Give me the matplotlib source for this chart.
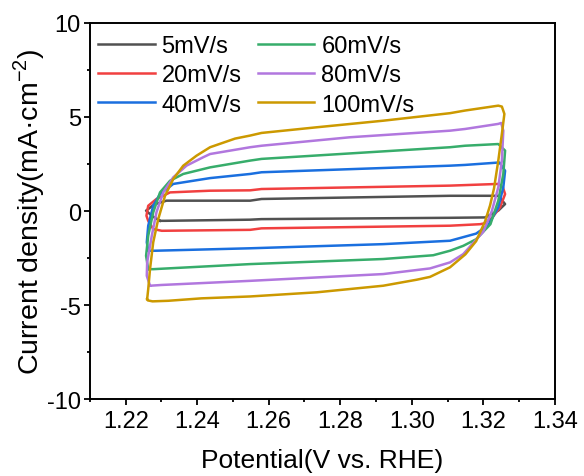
import matplotlib
matplotlib.use("Agg")
import matplotlib.pyplot as plt
from matplotlib.ticker import MultipleLocator

plt.rcParams['font.family'] = ['Liberation Sans', 'DejaVu Sans']
plt.rcParams['mathtext.fontset'] = 'custom'
plt.rcParams['mathtext.rm'] = 'Liberation Sans'
plt.rcParams['axes.unicode_minus'] = False

labels = ['5mV/s', '20mV/s', '40mV/s', '60mV/s', '80mV/s', '100mV/s']
colors = ['#515151', '#F14040', '#1A6FDF', '#37AD6B', '#B177DE', '#CC9900']

v5 = [1.2296, 1.2275, 1.2257, 1.2280, 1.2314, 1.2548, 1.2580, 1.3107, 1.3242, 1.3261, 1.3242, 1.3205, 1.3107, 1.2580, 1.2548, 1.2310, 1.2296]
i5 = [-0.52, -0.28, 0.02, 0.35, 0.55, 0.55, 0.64, 0.81, 0.81, 0.37, 0.02, -0.34, -0.36, -0.43, -0.46, -0.52, -0.52]

v20 = [1.2277, 1.2263, 1.2258, 1.2263, 1.2286, 1.2324, 1.2436, 1.2548, 1.2580, 1.3107, 1.3242, 1.3255, 1.3261, 1.3247, 1.3225, 1.3205, 1.3191, 1.3107, 1.2580, 1.2548, 1.2301, 1.2277]
i20 = [-0.96, -0.52, -0.25, 0.28, 0.64, 0.99, 1.08, 1.10, 1.17, 1.35, 1.44, 1.25, 0.90, 0.20, -0.35, -0.65, -0.70, -0.78, -0.92, -1.00, -1.05, -0.96]

v40 = [1.2263, 1.2259, 1.2263, 1.2277, 1.2296, 1.2333, 1.2436, 1.2548, 1.2580, 1.3107, 1.3149, 1.3245, 1.3261, 1.3256, 1.3242, 1.3214, 1.3180, 1.3107, 1.2920, 1.2548, 1.2282, 1.2263]
i40 = [-2.11, -1.66, -0.78, 0.28, 0.90, 1.44, 1.75, 1.97, 2.06, 2.41, 2.45, 2.58, 2.14, 1.26, 0.20, -0.75, -1.20, -1.58, -1.76, -1.98, -2.11, -2.11]

v60 = [1.2263, 1.2257, 1.2263, 1.2277, 1.2296, 1.2324, 1.2361, 1.2436, 1.2548, 1.2580, 1.3107, 1.3149, 1.3242, 1.3261, 1.3256, 1.3242, 1.3220, 1.3180, 1.3144, 1.3107, 1.3060, 1.2920, 1.2548, 1.2277, 1.2263]
i60 = [-3.09, -2.38, -1.31, -0.07, 0.99, 1.61, 1.97, 2.32, 2.68, 2.77, 3.39, 3.47, 3.56, 3.21, 1.97, 0.55, -0.70, -1.50, -1.85, -2.11, -2.35, -2.55, -2.82, -3.09, -3.09]

v80 = [1.2268, 1.2259, 1.2260, 1.2273, 1.2286, 1.2305, 1.2333, 1.2370, 1.2417, 1.2436, 1.2548, 1.2580, 1.2827, 1.3107, 1.3149, 1.3242, 1.3250, 1.3256, 1.3252, 1.3242, 1.3224, 1.3200, 1.3144, 1.3107, 1.3051, 1.2920, 1.2548, 1.2300, 1.2268]
i80 = [-3.97, -3.44, -2.73, -1.31, -0.07, 0.99, 1.79, 2.41, 2.86, 3.03, 3.39, 3.47, 3.92, 4.27, 4.36, 4.63, 4.68, 4.27, 2.68, 1.26, 0.00, -1.10, -2.29, -2.73, -3.05, -3.35, -3.71, -3.93, -3.97]

v100 = [1.2260, 1.2263, 1.2268, 1.2277, 1.2291, 1.2310, 1.2333, 1.2361, 1.2398, 1.2436, 1.2506, 1.2548, 1.2580, 1.2734, 1.2920, 1.3107, 1.3149, 1.3242, 1.3252, 1.3259, 1.3252, 1.3242, 1.3230, 1.3219, 1.3205, 1.3180, 1.3150, 1.3107, 1.3051, 1.3014, 1.2920, 1.2734, 1.2548, 1.2412, 1.2319, 1.2275, 1.2262, 1.2260]
i100 = [-4.68, -4.15, -3.09, -1.66, -0.43, 0.81, 1.70, 2.41, 2.94, 3.39, 3.85, 4.01, 4.15, 4.45, 4.80, 5.20, 5.34, 5.60, 5.55, 5.16, 4.10, 2.68, 1.20, 0.30, -0.55, -1.60, -2.30, -2.99, -3.50, -3.65, -3.97, -4.32, -4.54, -4.64, -4.77, -4.80, -4.75, -4.68]

series_v = [v5, v20, v40, v60, v80, v100]
series_i = [i5, i20, i40, i60, i80, i100]

fig = plt.figure(figsize=(5.84, 4.77), dpi=100)
ax = fig.add_axes([0.154, 0.161, 0.796, 0.789])

for v, i, c, lab in zip(series_v, series_i, colors, labels):
    ax.plot(v, i, color=c, lw=1.8, label=lab, solid_joinstyle='round')

ax.set_xlim(1.21, 1.34)
ax.set_ylim(-10, 10)
ax.set_xticks([1.22, 1.24, 1.26, 1.28, 1.30, 1.32, 1.34])
ax.set_xticklabels(['1.22', '1.24', '1.26', '1.28', '1.30', '1.32', '1.34'])
ax.set_yticks([-10, -5, 0, 5, 10])
ax.xaxis.set_minor_locator(MultipleLocator(0.01))
ax.yaxis.set_minor_locator(MultipleLocator(2.5))
ax.tick_params(which='major', direction='out', length=4.5, width=1.3, labelsize=17, top=False, right=False)
ax.tick_params(which='minor', direction='out', length=2.5, width=1.3, top=False, right=False)
ax.tick_params(axis='y', pad=2)
ax.tick_params(axis='x', pad=3)
for s in ax.spines.values():
    s.set_linewidth(1.4)

ax.set_xlabel('Potential(V vs. RHE)', fontsize=19, labelpad=12)
ax.set_ylabel(r'Current density(mA·cm$^{\mathregular{-2}}$)', fontsize=20.5, labelpad=0)

ax.legend(loc='upper left', ncol=2, frameon=False, fontsize=17, handlelength=2.4,
          handletextpad=0.3, columnspacing=0.68, labelspacing=0.31,
          bbox_to_anchor=(0.017, 0.968), borderaxespad=0, borderpad=0)

fig.savefig('out.png', dpi=100)
